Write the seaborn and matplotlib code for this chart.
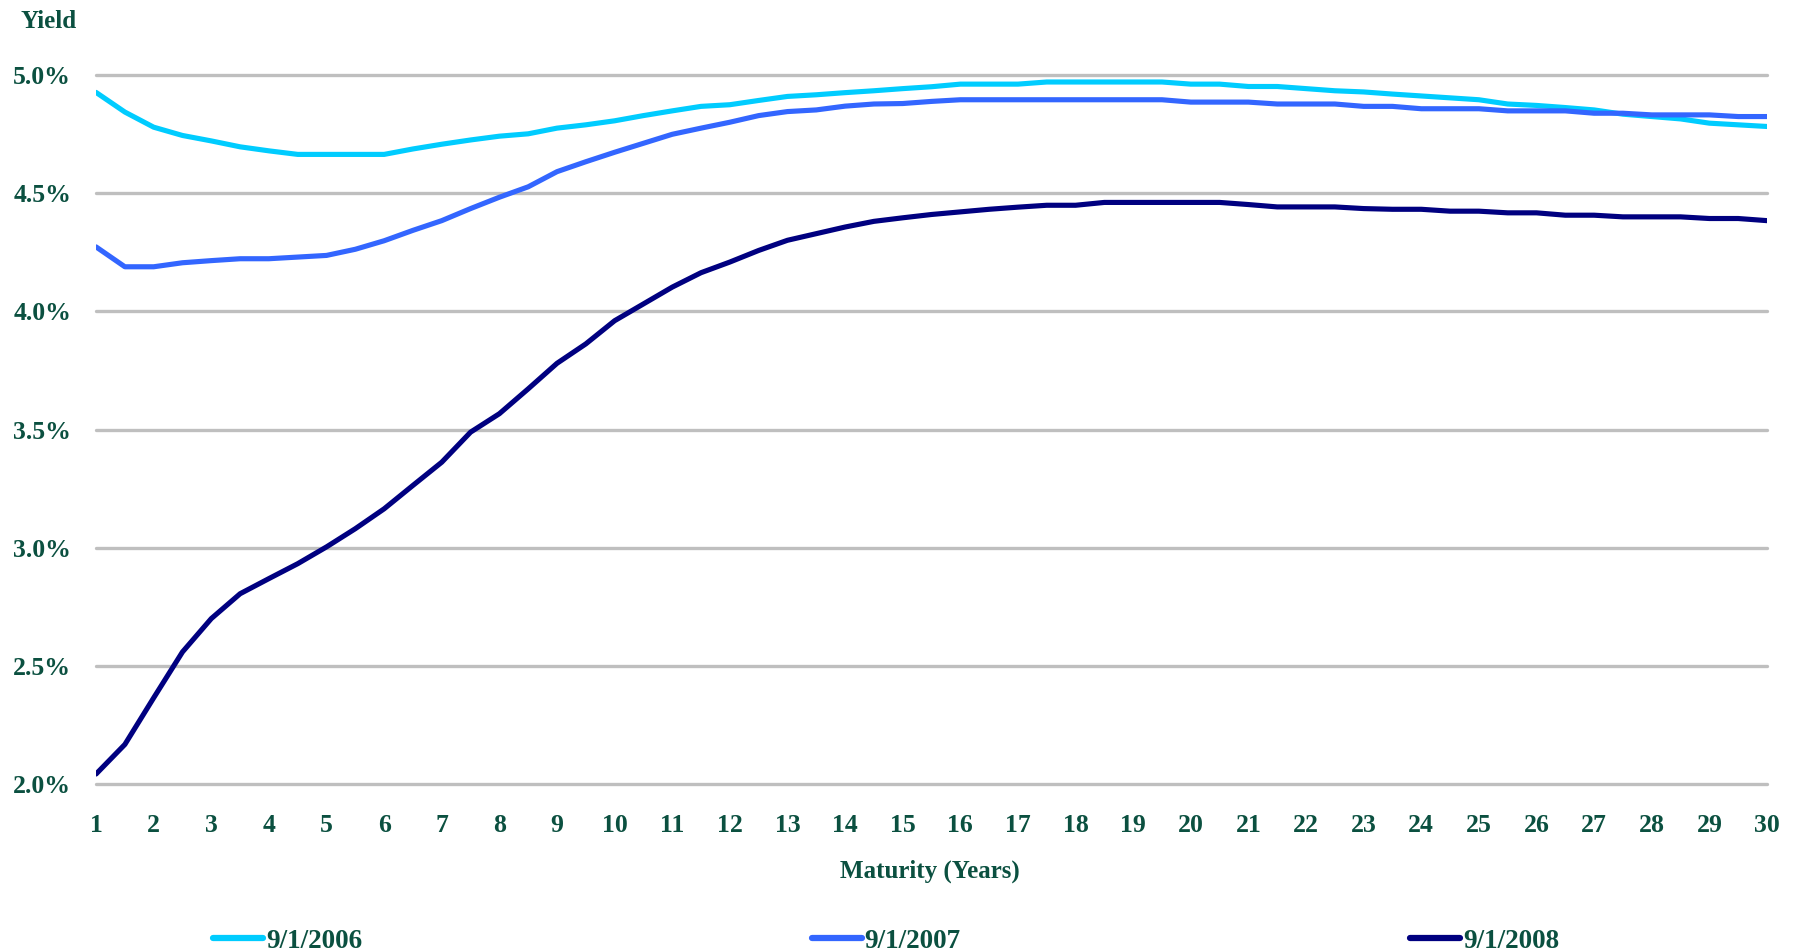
import numpy as np
import pandas as pd
import matplotlib
matplotlib.use("Agg")
import matplotlib.pyplot as plt
import seaborn as sns

# Treasury yield curves (percent) by maturity in years, half-year steps
maturity = [1, 1.5, 2, 2.5, 3, 3.5, 4, 4.5, 5, 5.5, 6, 6.5, 7, 7.5, 8, 8.5, 9, 9.5,
            10, 10.5, 11, 11.5, 12, 12.5, 13, 13.5, 14, 14.5, 15, 15.5, 16, 16.5,
            17, 17.5, 18, 18.5, 19, 19.5, 20, 20.5, 21, 21.5, 22, 22.5, 23, 23.5,
            24, 24.5, 25, 25.5, 26, 26.5, 27, 27.5, 28, 28.5, 29, 29.5, 30]

yield_2006 = [4.925, 4.842, 4.778, 4.743, 4.720, 4.695, 4.678, 4.663, 4.663, 4.663,
              4.663, 4.686, 4.706, 4.724, 4.740, 4.750, 4.774, 4.788, 4.805, 4.827,
              4.847, 4.866, 4.873, 4.891, 4.908, 4.915, 4.924, 4.932, 4.941, 4.949,
              4.960, 4.960, 4.960, 4.969, 4.969, 4.969, 4.969, 4.969, 4.960, 4.960,
              4.950, 4.950, 4.941, 4.932, 4.927, 4.918, 4.910, 4.902, 4.894, 4.876,
              4.870, 4.861, 4.851, 4.833, 4.823, 4.813, 4.795, 4.788, 4.781]

yield_2007 = [4.272, 4.188, 4.188, 4.205, 4.214, 4.222, 4.222, 4.229, 4.236, 4.262,
              4.298, 4.342, 4.383, 4.434, 4.482, 4.526, 4.590, 4.632, 4.672, 4.710,
              4.748, 4.774, 4.799, 4.827, 4.844, 4.851, 4.867, 4.876, 4.878, 4.887,
              4.894, 4.894, 4.894, 4.894, 4.894, 4.894, 4.894, 4.894, 4.884, 4.884,
              4.884, 4.876, 4.876, 4.876, 4.866, 4.866, 4.856, 4.856, 4.856, 4.847,
              4.847, 4.847, 4.837, 4.837, 4.830, 4.830, 4.830, 4.823, 4.823]

yield_2008 = [2.044, 2.169, 2.366, 2.560, 2.701, 2.806, 2.870, 2.933, 3.004, 3.081,
              3.165, 3.264, 3.362, 3.489, 3.567, 3.672, 3.780, 3.862, 3.960, 4.031,
              4.102, 4.163, 4.208, 4.257, 4.300, 4.328, 4.356, 4.380, 4.395, 4.409,
              4.420, 4.431, 4.440, 4.448, 4.448, 4.460, 4.460, 4.460, 4.460, 4.460,
              4.451, 4.441, 4.441, 4.441, 4.434, 4.431, 4.431, 4.423, 4.423, 4.416,
              4.416, 4.406, 4.406, 4.399, 4.399, 4.399, 4.392, 4.392, 4.383]

dates = ["9/1/2006", "9/1/2007", "9/1/2008"]
colors = ["#00CCFF", "#3366FF", "#000080"]
x_ticks = list(range(1, 31))
y_ticks = [2.0, 2.5, 3.0, 3.5, 4.0, 4.5, 5.0]

df = pd.DataFrame({
    "Maturity": maturity * 3,
    "Yield": yield_2006 + yield_2007 + yield_2008,
    "Date": [d for d in dates for _ in maturity],
})

sns.set_style("white")
plt.rcParams["font.family"] = ["Liberation Serif", "DejaVu Serif"]
plt.rcParams["font.weight"] = "bold"

text_color = "#0B5040"

fig = plt.figure(figsize=(17.99, 9.5), dpi=100)
ax = fig.add_axes([0.0534, 0.1743, 0.9288, 0.7471])

sns.lineplot(data=df, x="Maturity", y="Yield", hue="Date", hue_order=dates,
             palette=colors, linewidth=3.7, ax=ax, legend=True,
             solid_capstyle="round")

ax.set_xlim(1, 30)
ax.set_ylim(2.0, 5.0)
ax.set_xticks(x_ticks)
ax.set_xticklabels([str(t) for t in x_ticks])
ax.set_yticks(y_ticks)
ax.set_yticklabels([f"{t:.1f}%" for t in y_ticks])

for s in ax.spines.values():
    s.set_visible(False)
ax.grid(axis="y", color="#BFBFBF", linewidth=2.4, solid_capstyle="round")
ax.grid(axis="x", visible=False)
ax.set_axisbelow(True)
for gl in ax.get_ygridlines():
    gl.set_clip_on(False)

ax.tick_params(axis="both", length=0, labelsize=18.5, labelcolor=text_color)
ax.tick_params(axis="y", pad=18)
ax.tick_params(axis="x", pad=21)
for lab in ax.get_xticklabels() + ax.get_yticklabels():
    lab.set_fontweight("bold")

ax.set_xlabel("Maturity (Years)", fontsize=18, fontweight="bold", color=text_color)
ax.xaxis.label.set_va("center")
ax.xaxis.set_label_coords(0.499, -0.122)
ax.set_ylabel("")

fig.text(49 / 1799, 1 - 22 / 950, "Yield", ha="center", va="center",
         fontsize=18, fontweight="bold", color=text_color)

handles, labels = ax.get_legend_handles_labels()
ax.get_legend().remove()
leg = fig.legend(handles, labels, loc="center", bbox_to_anchor=(0.4925, 1 - 941 / 950),
                 ncol=3, frameon=False, handlelength=1.85, handletextpad=0.1,
                 columnspacing=16.6, prop={"size": 19.5, "weight": "bold"})
for t in leg.get_texts():
    t.set_color(text_color)
for h in leg.get_lines():
    h.set_linewidth(4.5)
    h.set_solid_capstyle("round")

fig.savefig("out.png", dpi=100)
